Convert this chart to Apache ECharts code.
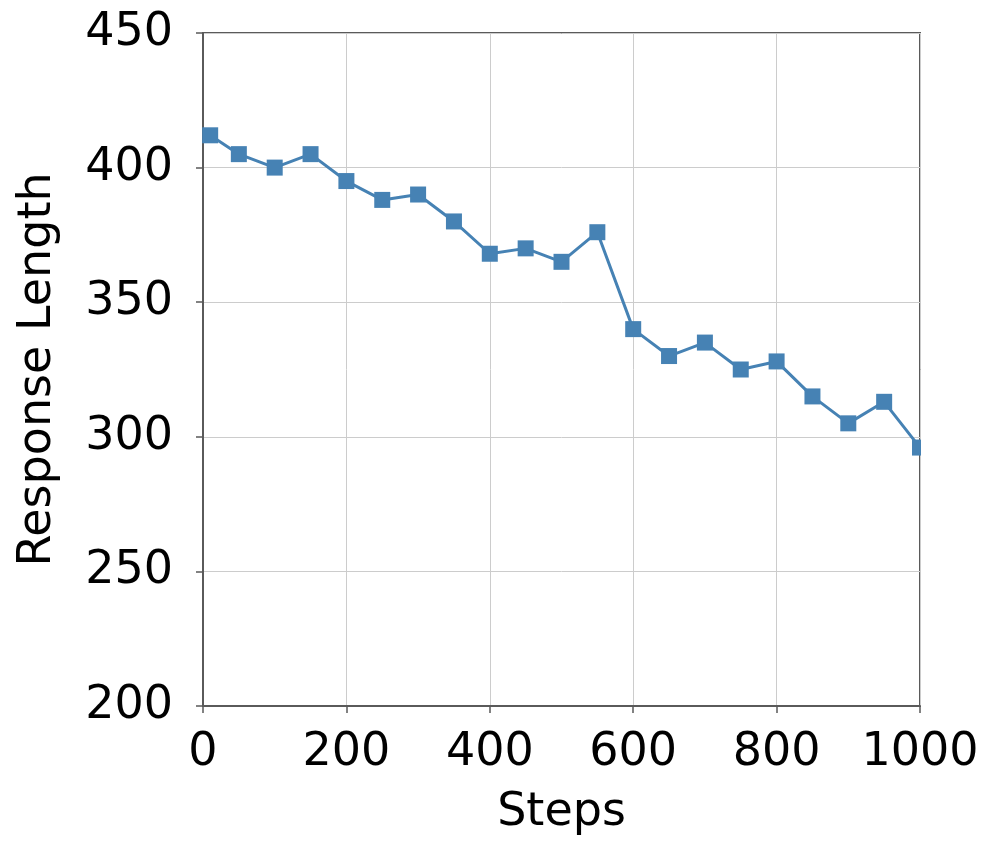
<!DOCTYPE html>
<html>
<head>
<meta charset="utf-8">
<script src="https://cdn.jsdelivr.net/npm/echarts@6/dist/echarts.min.js"></script>
<style>
  html, body { margin: 0; padding: 0; background: #fff; }
  #chart { width: 995px; height: 852px; }
</style>
</head>
<body>
<div id="chart"></div>
<script>
// training steps and mean response length
var steps = [10, 50, 100, 150, 200, 250, 300, 350, 400, 450, 500,
             550, 600, 650, 700, 750, 800, 850, 900, 950, 1000];
var responseLength = [412, 405, 400, 405, 395, 388, 390, 380, 368, 370, 365,
                      376, 340, 330, 335, 325, 328, 315, 305, 313, 296];

var xTicks = [0, 200, 400, 600, 800, 1000];
var yTicks = [200, 250, 300, 350, 400, 450];

var font = 'DejaVu Sans';
var myChart = echarts.init(document.getElementById('chart'));

var option = {
    animation: false,
    grid: {
        left: 203,
        right: 75,
        top: 33,
        bottom: 146,
        show: true,
        borderColor: '#5a5a5a',
        borderWidth: 2,
        backgroundColor: 'transparent'
    },
    // markers are cut at the plot frame in the original
    graphic: [{
        type: 'rect',
        shape: { x: 921, y: 0, width: 80, height: 700 },
        style: { fill: '#fff' },
        z: 100
    }],
    xAxis: {
        type: 'value',
        min: xTicks[0],
        max: xTicks[xTicks.length - 1],
        interval: 200,
        name: 'Steps',
        nameLocation: 'middle',
        nameGap: 84,
        nameTextStyle: { fontFamily: font, fontSize: 46, color: '#000' },
        axisLine: { show: true, lineStyle: { color: '#5a5a5a', width: 2 } },
        axisTick: { show: true, inside: false, length: 7, lineStyle: { color: '#5a5a5a', width: 1.5 } },
        axisLabel: {
            fontFamily: font, fontSize: 46, color: '#000', margin: 24,
            formatter: function (v) { return String(v); }
        },
        splitLine: { show: true, lineStyle: { color: '#cccccc', width: 1 } }
    },
    yAxis: {
        type: 'value',
        min: yTicks[0],
        max: yTicks[yTicks.length - 1],
        interval: 50,
        name: 'Response Length',
        nameLocation: 'middle',
        nameGap: 142,
        nameTextStyle: { fontFamily: font, fontSize: 46, color: '#000' },
        axisLine: { show: true, lineStyle: { color: '#5a5a5a', width: 2 } },
        axisTick: { show: true, inside: false, length: 7, lineStyle: { color: '#5a5a5a', width: 1.5 } },
        axisLabel: { fontFamily: font, fontSize: 46, color: '#000', margin: 30 },
        splitLine: { show: true, lineStyle: { color: '#cccccc', width: 1 } }
    },
    series: [{
        type: 'line',
        data: steps.map(function (s, i) { return [s, responseLength[i]]; }),
        symbol: 'rect',
        symbolSize: 16,
        clip: true,
        lineStyle: { color: '#4682b4', width: 3 },
        itemStyle: { color: '#4682b4' }
    }]
};

myChart.setOption(option);
</script>
</body>
</html>
